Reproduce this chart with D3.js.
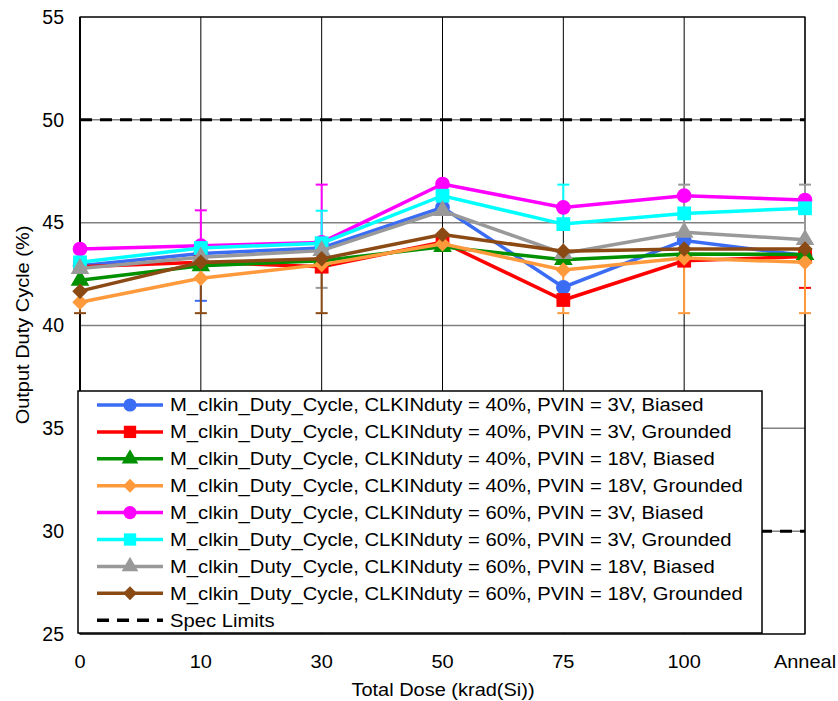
<!DOCTYPE html>
<html><head><meta charset="utf-8">
<script src="https://cdn.jsdelivr.net/npm/d3@7"></script>
<style>body{margin:0;background:#fff}svg{display:block;font-family:"Liberation Sans",Arial,sans-serif}</style>
</head><body><svg id="c" width="838" height="701"></svg>
<script>
const categories = ["0","10","30","50","75","100","Anneal"];
const yTicks = [25,30,35,40,45,50,55];
const specLimits = [50,30];
const seriesNames = [
 "M_clkin_Duty_Cycle, CLKINduty = 40%, PVIN = 3V, Biased",
 "M_clkin_Duty_Cycle, CLKINduty = 40%, PVIN = 3V, Grounded",
 "M_clkin_Duty_Cycle, CLKINduty = 40%, PVIN = 18V, Biased",
 "M_clkin_Duty_Cycle, CLKINduty = 40%, PVIN = 18V, Grounded",
 "M_clkin_Duty_Cycle, CLKINduty = 60%, PVIN = 3V, Biased",
 "M_clkin_Duty_Cycle, CLKINduty = 60%, PVIN = 3V, Grounded",
 "M_clkin_Duty_Cycle, CLKINduty = 60%, PVIN = 18V, Biased",
 "M_clkin_Duty_Cycle, CLKINduty = 60%, PVIN = 18V, Grounded"];
const seriesColors = ["#3a6cf4","#ff0000","#009000","#ff9a3c","#ff00ff","#00ffff","#999999","#8b4a14"];
const seriesMarkers = ["circle","square","triangle","diamond","circle","square","triangle","diamond"];
const s40_3B  = [42.9,43.5,43.77,45.74,41.86,44.13,43.4];
const s40_3G  = [42.86,43.07,42.86,44.05,41.24,43.15,43.35];
const s40_18B = [42.2,42.9,43.15,43.83,43.2,43.48,43.45];
const s40_18G = [41.13,42.3,42.96,43.97,42.7,43.28,43.07];
const s60_3B  = [43.72,43.88,44.04,46.88,45.74,46.31,46.1];
const s60_3G  = [43.07,43.77,44.0,46.31,44.93,45.45,45.7];
const s60_18B = [42.77,43.32,43.64,45.58,43.5,44.53,44.17];
const s60_18G = [41.67,43.07,43.24,44.42,43.61,43.72,43.72];
const seriesValues = [s40_3B,s40_3G,s40_18B,s40_18G,s60_3B,s60_3G,s60_18B,s60_18G];
// error bar ends (null = none)
const errHigh = [
 [null,null,null,null,null,null,null],
 [null,null,null,null,null,null,null],
 [null,null,null,null,null,null,null],
 [null,null,null,null,null,null,null],
 [null,45.6,46.85,null,null,null,null],
 [null,null,45.58,null,46.85,null,null],
 [null,null,null,null,null,46.85,46.85],
 [null,null,null,null,null,null,null]];
const errLow = [
 [null,41.2,null,null,null,null,null],
 [null,null,null,null,null,null,41.83],
 [null,null,null,null,null,null,null],
 [null,null,null,null,40.6,40.6,40.6],
 [null,null,null,null,null,null,null],
 [null,null,null,null,null,null,null],
 [null,null,41.83,null,null,null,null],
 [40.6,40.6,40.6,null,null,null,null]];

const svg = d3.select("#c");
const L=80, R=805, T=17, B=634;
const x = d3.scalePoint().domain(categories).range([L,R]);
const y = d3.scaleLinear().domain([25,55]).range([B,T]);

// grid
const g = svg.append("g");
g.selectAll("line.h").data(yTicks).join("line")
 .attr("x1",L).attr("x2",R).attr("y1",d=>y(d)).attr("y2",d=>y(d))
 .attr("stroke","#808080").attr("stroke-width",1.5);
g.selectAll("line.v").data(categories).join("line")
 .attr("x1",d=>x(d)).attr("x2",d=>x(d)).attr("y1",T).attr("y2",B)
 .attr("stroke","#000").attr("stroke-width",1);
// frame
svg.append("rect").attr("x",L).attr("y",T).attr("width",R-L).attr("height",B-T)
 .attr("fill","none").attr("stroke","#000").attr("stroke-width",1.2);
svg.append("line").attr("x1",L).attr("x2",L).attr("y1",T).attr("y2",B).attr("stroke","#000").attr("stroke-width",2);

// spec limits
svg.selectAll("line.spec").data(specLimits).join("line")
 .attr("x1",L).attr("x2",R).attr("y1",d=>y(d)).attr("y2",d=>y(d))
 .attr("stroke","#000").attr("stroke-width",3).attr("stroke-dasharray","12,8");

// error bars
const eb = svg.append("g");
seriesValues.forEach((vals,si)=>{
  vals.forEach((v,ci)=>{
    [errHigh[si][ci], errLow[si][ci]].forEach(e=>{
      if(e==null) return;
      const cx = x(categories[ci]);
      eb.append("line").attr("x1",cx).attr("x2",cx).attr("y1",y(v)).attr("y2",y(e))
        .attr("stroke",seriesColors[si]).attr("stroke-width",2);
      eb.append("line").attr("x1",cx-6).attr("x2",cx+6).attr("y1",y(e)).attr("y2",y(e))
        .attr("stroke",seriesColors[si]).attr("stroke-width",2);
    });
  });
});

const symType = {circle:d3.symbolCircle,square:d3.symbolSquare,triangle:d3.symbolTriangle,diamond:d3.symbolSquare};
const symSize = {circle:170,square:190,triangle:150,diamond:120};
const symRot = {circle:0,square:0,triangle:0,diamond:45};
const line = d3.line().x((d,i)=>x(categories[i])).y(d=>y(d));
seriesValues.forEach((vals,si)=>{
  const gg = svg.append("g");
  const m = seriesMarkers[si];
  gg.append("path").attr("d",line(vals)).attr("fill","none")
    .attr("stroke",seriesColors[si]).attr("stroke-width",3.5);
  gg.selectAll("path.m").data(vals).join("path")
    .attr("transform",(d,i)=>`translate(${x(categories[i])},${y(d)}) rotate(${symRot[m]})`)
    .attr("d",d3.symbol(symType[m],symSize[m]))
    .attr("fill",seriesColors[si]);
});

// text helper with horizontal stretch
function txt(parent,tx,ty,s,size,sx,anchor,rot){
  return parent.append("text")
    .attr("transform",`translate(${tx},${ty})${rot?` rotate(${rot})`:""} scale(${sx},1)`)
    .attr("text-anchor",anchor||"start").attr("dy","0.35em").attr("font-size",size).text(s);
}
const ax = svg.append("g");
yTicks.forEach(d=>txt(ax,64,y(d),d,19.5,1,"end"));
categories.forEach(d=>txt(ax,x(d),662,d,18.5,1.08,"middle"));
txt(ax,23,325,"Output Duty Cycle (%)",18.5,1.08,"middle",-90);
txt(ax,443,690,"Total Dose (krad(Si))",18.5,1.08,"middle");

// legend
const lg = svg.append("g");
lg.append("rect").attr("x",78).attr("y",391).attr("width",684).attr("height",242)
 .attr("fill","#fff").attr("stroke","#000").attr("stroke-width",1.5);
const ly = i=>405+i*26.9;
seriesNames.forEach((n,si)=>{
  const m = seriesMarkers[si];
  lg.append("line").attr("x1",97).attr("x2",163).attr("y1",ly(si)).attr("y2",ly(si))
    .attr("stroke",seriesColors[si]).attr("stroke-width",3.5);
  lg.append("path").attr("transform",`translate(130,${ly(si)}) rotate(${symRot[m]})`)
    .attr("d",d3.symbol(symType[m],symSize[m]*0.8))
    .attr("fill",seriesColors[si]);
  txt(lg,170,ly(si),n,18,1.125);
});
lg.append("line").attr("x1",97).attr("x2",163).attr("y1",ly(8)).attr("y2",ly(8))
  .attr("stroke","#000").attr("stroke-width",3.5).attr("stroke-dasharray","12,8");
txt(lg,170,ly(8),"Spec Limits",18,1.125);
</script></body></html>
